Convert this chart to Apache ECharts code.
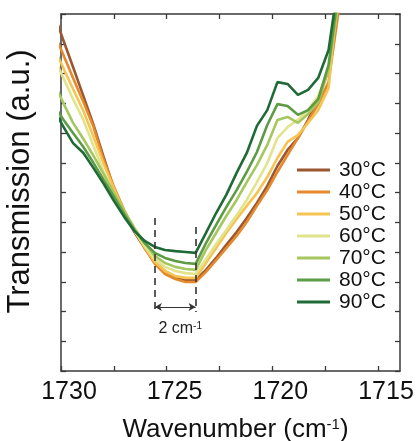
<!DOCTYPE html>
<html>
<head>
<meta charset="utf-8">
<script src="https://cdn.jsdelivr.net/npm/echarts@6/dist/echarts.min.js"></script>
<style>
  html, body { margin: 0; padding: 0; background: #ffffff; }
  #chart { width: 417px; height: 441px; }
</style>
</head>
<body>
<div id="chart"></div>
<script>
// Wavenumber grid of the spectra (cm-1)
const wavenumbers = [1730.39, 1729.91, 1729.43, 1728.94, 1728.46, 1727.98, 1727.49, 1727.01,
  1726.53, 1726.04, 1725.56, 1725.08, 1724.59, 1724.11, 1723.63, 1723.14, 1722.66, 1722.18,
  1721.69, 1721.21, 1720.73, 1720.24, 1719.76, 1719.28, 1718.79, 1718.31, 1717.83, 1717.34, 1716.86];

const temperatures = ['30°C', '40°C', '50°C', '60°C', '70°C', '80°C', '90°C'];

// Transmission (a.u.) at each temperature
const trans30 = [12.13, 11.16, 10.22, 9.24, 8.27, 7.19, 6.12, 5.31, 4.67, 4.13, 3.66, 3.36, 3.16, 3.06, 3.06,
  3.40, 3.80, 4.24, 4.67, 5.14, 5.65, 6.22, 6.89, 7.43, 7.83, 8.44, 9.18, 10.12, 12.64];
const trans40 = [11.46, 10.66, 9.85, 9.04, 8.20, 7.09, 6.18, 5.41, 4.74, 4.13, 3.60, 3.26, 3.09, 2.99, 2.99,
  3.33, 3.73, 4.13, 4.54, 5.01, 5.55, 6.08, 6.69, 7.26, 7.83, 8.40, 8.97, 9.71, 12.13];
const trans50 = [10.96, 10.22, 9.48, 8.74, 7.87, 6.96, 6.12, 5.38, 4.74, 4.17, 3.66, 3.36, 3.19, 3.13, 3.13,
  3.63, 4.13, 4.64, 5.11, 5.55, 5.98, 6.52, 7.16, 7.70, 7.93, 8.34, 8.77, 9.51, 12.97];
const trans60 = [10.62, 9.88, 9.14, 8.44, 7.56, 6.69, 5.92, 5.28, 4.71, 4.20, 3.76, 3.50, 3.36, 3.29, 3.26,
  3.76, 4.27, 4.74, 5.24, 5.75, 6.35, 6.99, 7.83, 8.20, 8.44, 8.77, 9.24, 10.12, 12.47];
const trans70 = [9.78, 9.04, 8.34, 7.80, 7.23, 6.62, 5.98, 5.38, 4.81, 4.30, 3.87, 3.63, 3.50, 3.43, 3.40,
  4.07, 4.64, 5.21, 5.75, 6.35, 6.92, 7.60, 8.44, 8.54, 8.34, 8.64, 9.04, 10.12, 12.47];
const trans80 = [9.01, 8.47, 8.00, 7.53, 6.99, 6.42, 5.85, 5.28, 4.74, 4.30, 3.97, 3.80, 3.70, 3.63, 3.60,
  4.30, 4.91, 5.51, 6.08, 6.69, 7.36, 8.27, 8.97, 8.91, 8.61, 8.77, 9.14, 10.29, 12.81];
const trans90 = [8.87, 8.24, 7.66, 7.33, 6.82, 6.29, 5.71, 5.18, 4.71, 4.37, 4.17, 4.07, 4.03, 4.00, 3.97,
  4.64, 5.31, 5.92, 6.66, 7.33, 8.24, 8.77, 9.71, 9.65, 9.28, 9.45, 9.85, 10.79, 13.14];

const allSeries = [trans30, trans40, trans50, trans60, trans70, trans80, trans90];

// Axis ticks and labels
const xTickValues = [1715, 1717.5, 1720, 1722.5, 1725, 1727.5, 1730];
const xLabelValues = [1715, 1720, 1725, 1730];

// Peak-shift annotation: the two band minima and the shift marker
const shiftFrom = 1725.56;
const shiftTo = 1723.63;
const shiftLabel = '2 cm';

const palette = ['#9b5632', '#e5892b', '#f5c452', '#e2e48c', '#a5c75f', '#5d9b46', '#1f6a37'];
const FONT = '"Liberation Sans", Arial, sans-serif';
const AXIS_COLOR = '#3a3a3a';

const chart = echarts.init(document.getElementById('chart'), null, { renderer: 'canvas' });

const lineSeries = allSeries.map((vals, i) => ({
  name: temperatures[i],
  type: 'line',
  data: wavenumbers.map((w, j) => [w, vals[j]]),
  showSymbol: false,
  symbol: 'none',
  clip: true,
  lineStyle: { width: 2.6, color: palette[i] },
  itemStyle: { color: palette[i] },
  z: 2
}));

const dashStyle = { color: '#333333', width: 1.6, type: [7, 5] };

lineSeries.push({
  name: 'shift',
  type: 'line',
  data: [],
  silent: true,
  markLine: {
    silent: true,
    animation: false,
    symbol: ['none', 'none'],
    data: [
      [{ coord: [shiftFrom, 5.14], lineStyle: dashStyle, label: { show: false } },
       { coord: [shiftFrom, 1.98] }],
      [{ coord: [shiftTo, 4.84], lineStyle: dashStyle, label: { show: false } },
       { coord: [shiftTo, 1.98] }],
      [{
        coord: [shiftFrom, 2.15],
        symbol: 'arrow',
        symbolSize: [6, 7],
        lineStyle: { color: '#333333', width: 1, type: 'solid' },
        label: {
          show: true,
          position: 'insideMiddleBottom',
          distance: 14,
          formatter: shiftLabel + '{s|-1}',
          color: '#222222',
          fontFamily: FONT,
          fontSize: 16,
          padding: [0, 0, 0, 10],
          rich: { s: { fontSize: 10, verticalAlign: 'top', lineHeight: 10, fontFamily: FONT, color: '#222222' } }
        }
      },
      { coord: [shiftTo, 2.15], symbol: 'arrow', symbolSize: [6, 7] }]
    ]
  }
});

const tickCommon = { show: true, inside: true, length: 5, lineStyle: { color: AXIS_COLOR, width: 1.3 } };
const lineCommon = { show: true, onZero: false, lineStyle: { color: AXIS_COLOR, width: 1.5 } };

chart.setOption({
  animation: false,
  backgroundColor: '#ffffff',
  grid: { left: 61, right: 17, top: 14, bottom: 70, containLabel: false, outerBoundsMode: 'none' },
  legend: {
    data: temperatures,
    orient: 'vertical',
    left: 297,
    top: 159,
    padding: 0,
    icon: 'rect',
    itemWidth: 33,
    itemHeight: 3,
    itemGap: 0,
    selectedMode: false,
    textStyle: { fontFamily: FONT, fontSize: 21, lineHeight: 22, color: '#111111', padding: [0, 0, 0, 4] }
  },
  xAxis: [{
    type: 'value',
    inverse: true,
    min: 1713.96,
    max: 1730,
    position: 'bottom',
    axisLine: lineCommon,
    axisTick: Object.assign({}, tickCommon, { customValues: xTickValues }),
    splitLine: { show: false },
    axisLabel: {
      customValues: xLabelValues,
      formatter: v => String(v),
      color: '#111111',
      fontFamily: FONT,
      fontSize: 25,
      margin: 9,
      padding: [0, 0, 0, 16]
    },
    name: 'Wavenumber (cm{s|-1})',
    nameLocation: 'middle',
    nameGap: 46,
    nameTextStyle: {
      color: '#111111',
      fontFamily: FONT,
      fontSize: 26,
      padding: [0, 0, 0, 10],
      rich: { s: { fontSize: 15, verticalAlign: 'top', lineHeight: 14, fontFamily: FONT, color: '#111111' } }
    }
  }, {
    type: 'value',
    inverse: true,
    min: 1713.96,
    max: 1730,
    position: 'top',
    axisLine: lineCommon,
    axisTick: Object.assign({}, tickCommon, { customValues: xTickValues }),
    axisLabel: { show: false },
    splitLine: { show: false }
  }],
  yAxis: [{
    type: 'value',
    min: 0,
    max: 12,
    interval: 1,
    position: 'left',
    axisLine: lineCommon,
    axisTick: tickCommon,
    axisLabel: { show: false },
    splitLine: { show: false },
    name: 'Transmission (a.u.)',
    nameLocation: 'middle',
    nameGap: 25,
    nameTextStyle: { color: '#111111', fontFamily: FONT, fontSize: 31, padding: [0, 0, 0, 22] }
  }, {
    type: 'value',
    min: 0,
    max: 12,
    interval: 1,
    position: 'right',
    axisLine: lineCommon,
    axisTick: tickCommon,
    axisLabel: { show: false },
    splitLine: { show: false }
  }],
  series: lineSeries
});
</script>
</body>
</html>
